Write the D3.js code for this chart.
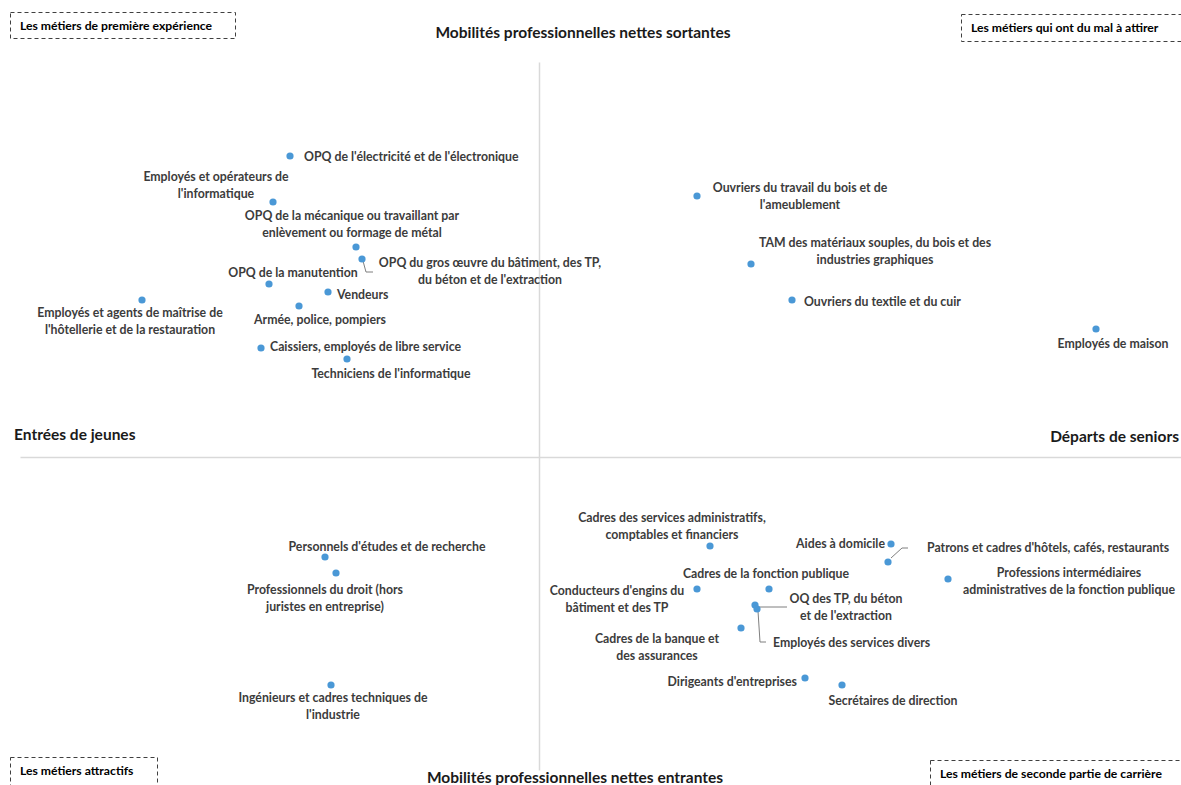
<!DOCTYPE html>
<html>
<head>
<meta charset="utf-8">
<script src="https://cdn.jsdelivr.net/npm/d3@7"></script>
<style>
  body { margin: 0; background: #fff; }
  svg { display: block; }
</style>
</head>
<body>
<div id="chart"></div>
<script>
// métiers (data), x = entrées de jeunes (<0) / départs de seniors (>0), y = sortantes (>0) / entrantes (<0)
var metiers = [
  ["OPQ de l'électricité et de l'électronique"],
  ["Employés et opérateurs de", "l'informatique"],
  ["OPQ de la mécanique ou travaillant par", "enlèvement ou formage de métal"],
  ["OPQ du gros œuvre du bâtiment, des TP,", "du béton et de l'extraction"],
  ["OPQ de la manutention"],
  ["Vendeurs"],
  ["Armée, police, pompiers"],
  ["Employés et agents de maîtrise de", "l'hôtellerie et de la restauration"],
  ["Caissiers, employés de libre service"],
  ["Techniciens de l'informatique"],
  ["Ouvriers du travail du bois et de", "l'ameublement"],
  ["TAM des matériaux souples, du bois et des", "industries graphiques"],
  ["Ouvriers du textile et du cuir"],
  ["Employés de maison"],
  ["Personnels d'études et de recherche"],
  ["Professionnels du droit (hors", "juristes en entreprise)"],
  ["Ingénieurs et cadres techniques de", "l'industrie"],
  ["Cadres des services administratifs,", "comptables et financiers"],
  ["Aides à domicile"],
  ["Patrons et cadres d'hôtels, cafés, restaurants"],
  ["Professions intermédiaires", "administratives de la fonction publique"],
  ["Cadres de la fonction publique"],
  ["Conducteurs d'engins du", "bâtiment et des TP"],
  ["OQ des TP, du béton", "et de l'extraction"],
  ["Employés des services divers"],
  ["Cadres de la banque et", "des assurances"],
  ["Dirigeants d'entreprises"],
  ["Secrétaires de direction"]
];
var xValues = [-2.49, -2.66, -1.83, -1.77, -2.70, -2.11, -2.40, -3.97, -2.78, -1.92,
               1.58, 2.12, 2.53, 5.57,
               -2.14, -2.03, -2.08,
               1.71, 3.52, 3.49, 4.09, 2.30, 1.58, 2.16, 2.18, 2.02, 2.66, 3.03];
var yValues = [3.01, 2.55, 2.10, 1.98, 1.73, 1.65, 1.51, 1.57, 1.09, 0.98,
               2.61, 1.93, 1.57, 1.28,
               -1.00, -1.16, -2.28,
               -0.89, -0.87, -1.05, -1.22, -1.32, -1.32, -1.48, -1.52, -1.71, -2.21, -2.28];
var axisTitles = ["Mobilités professionnelles nettes sortantes", "Mobilités professionnelles nettes entrantes",
                  "Entrées de jeunes", "Départs de seniors"];
var quadrants = ["Les métiers de première expérience", "Les métiers qui ont du mal à attirer",
                 "Les métiers attractifs", "Les métiers de seconde partie de carrière"];

// label placement relative to the dot: [dx, dy first line, anchor, leader]
var labelLayout = [
  [14, 0, "start"],
  [-57, -26, "middle"],
  [-4, -32, "middle"],
  [128, 3, "middle", [[1, 2], [4, 13], [11, 13]]],
  [24, -12, "middle"],
  [9, 2, "start"],
  [21, 13, "middle"],
  [-12, 12, "middle"],
  [9, -2, "start"],
  [44, 14, "middle"],
  [103, -9, "middle"],
  [124, -22, "middle"],
  [12, 1, "start"],
  [17, 14, "middle"],
  [62, -11, "middle"],
  [-11, 16, "middle"],
  [2, 12, "middle"],
  [-38, -29, "middle"],
  [-6, -1, "end"],
  [39, -15, "start", [[3, -4], [14, -14], [20, -14]]],
  [121, -7, "middle"],
  [-3, -16, "middle"],
  [-80, 1, "middle"],
  [91, -7, "middle", [[2, 2], [32, 2]]],
  [16, 33, "start", [[1, 2], [3, 33], [9, 33]]],
  [-84, 10, "middle"],
  [-8, 3, "end"],
  [51, 15, "middle"]
];

var width = 1181, height = 785;
var dotFill = "#4a98d6";
var labelFill = "#3c3c3c";
var axisStroke = "#d9d9d9";
var fontFamily = "Lato, 'Open Sans', sans-serif";
var lineHeight = 17;

var svg = d3.select("#chart").append("svg")
  .attr("width", width)
  .attr("height", height);

var x = d3.scaleLinear().domain([-5.19, 6.42]).range([20, 1181]);
var y = d3.scaleLinear().domain([3.95, -3.13]).range([62, 770]);

// axes through the origin, no ticks
svg.append("g")
  .attr("transform", "translate(0," + y(0) + ")")
  .call(d3.axisBottom(x).tickValues([]).tickSizeOuter(0))
  .call(g => g.select(".domain").attr("stroke", axisStroke).attr("stroke-width", 1.5));
svg.append("g")
  .attr("transform", "translate(" + x(0) + ",0)")
  .call(d3.axisLeft(y).tickValues([]).tickSizeOuter(0))
  .call(g => g.select(".domain").attr("stroke", axisStroke).attr("stroke-width", 1.5));

var data = metiers.map(function(lines, i) {
  return { lines: lines, x: xValues[i], y: yValues[i], layout: labelLayout[i] };
});

// leader lines
svg.selectAll("polyline.leader")
  .data(data.filter(d => d.layout[3]))
  .enter()
  .append("polyline")
  .attr("class", "leader")
  .attr("fill", "none")
  .attr("stroke", "#7f7f7f")
  .attr("stroke-width", 1)
  .attr("points", d => d.layout[3].map(p => (x(d.x) + p[0]) + "," + (y(d.y) + p[1])).join(" "));

svg.selectAll("circle")
  .data(data)
  .enter()
  .append("circle")
  .attr("cx", d => x(d.x))
  .attr("cy", d => y(d.y))
  .attr("r", 3.6)
  .attr("fill", dotFill);

var labels = svg.selectAll("text.label")
  .data(data)
  .enter()
  .append("text")
  .attr("class", "label")
  .attr("text-anchor", d => d.layout[2])
  .attr("fill", labelFill)
  .attr("font-family", fontFamily)
  .attr("font-weight", "bold")
  .attr("font-size", "12.3px");

labels.selectAll("tspan")
  .data(d => d.lines.map((t, j) => ({ t: t, j: j, d: d })))
  .enter()
  .append("tspan")
  .attr("x", o => x(o.d.x) + o.d.layout[0])
  .attr("y", o => y(o.d.y) + o.d.layout[1] + o.j * lineHeight + 1.5)
  .attr("dominant-baseline", "middle")
  .text(o => o.t);

// axis titles
function titleAttr(selection, size) {
  selection
    .attr("fill", "#1a1a1a")
    .attr("font-family", fontFamily)
    .attr("font-weight", "bold")
    .attr("font-size", size)
    .attr("dominant-baseline", "middle");
}
svg.append("text").text(axisTitles[0]).attr("x", 583).attr("y", 34.5).attr("text-anchor", "middle").call(titleAttr, "15.5px");
svg.append("text").text(axisTitles[1]).attr("x", 575).attr("y", 779.5).attr("text-anchor", "middle").call(titleAttr, "15.5px");
svg.append("text").text(axisTitles[2]).attr("x", 14).attr("y", 436.5).call(titleAttr, "15.5px");
svg.append("text").text(axisTitles[3]).attr("x", 1179).attr("y", 438.5).attr("text-anchor", "end").call(titleAttr, "15.5px");

// quadrant boxes
var boxes = [
  { x: 10, y: 12, w: 225, h: 26 },
  { x: 961, y: 14, w: 240, h: 27 },
  { x: 10, y: 757, w: 147, h: 40 },
  { x: 930, y: 760, w: 270, h: 40 }
];
quadrants.forEach(function(t, i) {
  var b = boxes[i];
  svg.append("rect")
    .attr("x", b.x + 0.5).attr("y", b.y + 0.5)
    .attr("width", b.w).attr("height", b.h)
    .attr("fill", "none")
    .attr("stroke", "#404040")
    .attr("stroke-dasharray", "4,3");
  svg.append("text")
    .attr("x", b.x + 10)
    .attr("y", b.y + 14.5)
    .attr("dominant-baseline", "middle")
    .attr("fill", "#000")
    .attr("font-family", fontFamily)
    .attr("font-weight", "bold")
    .attr("font-size", "12.2px")
    .text(t);
});
</script>
</body>
</html>
